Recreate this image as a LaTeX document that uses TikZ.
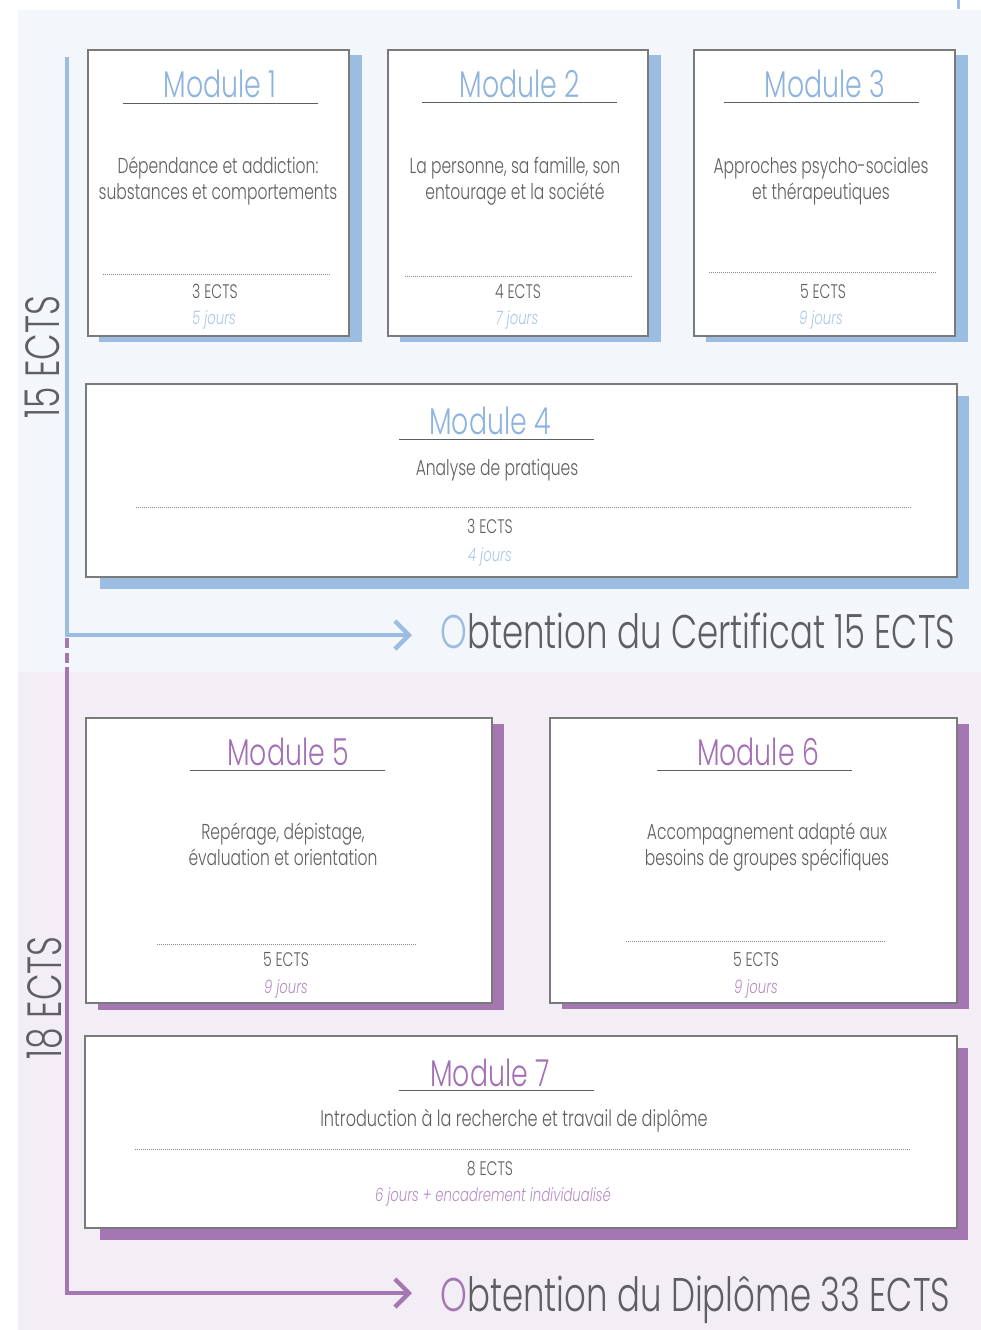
\documentclass[tikz,border=0pt]{standalone}
\usepackage{fontspec}
\IfFontExistsTF{Poppins Light}
  {\setmainfont{Poppins Light}[FakeStretch = 0.72]}
  {\setmainfont{Poppins}[FakeStretch = 0.72]}
\usetikzlibrary{arrows.meta}

\definecolor{bluebg}{HTML}{F3F6FB}
\definecolor{lilabg}{HTML}{F3EEF5}
\definecolor{blueline}{HTML}{9BBDE2}
\definecolor{lilaline}{HTML}{A477B2}
\definecolor{bluetitle}{HTML}{8DB3DF}
\definecolor{lilatitle}{HTML}{A370B5}
\definecolor{bluedays}{HTML}{A9C8EA}
\definecolor{liladays}{HTML}{B58DC6}
\definecolor{textgray}{HTML}{5F5F63}
\definecolor{framegray}{HTML}{7A7A7A}
\definecolor{dotgray}{HTML}{8A8A8A}

\begin{document}
\begin{tikzpicture}[x = 0.5pt, y = -0.5pt,
  modbox/.style = {draw = framegray, fill = white, line width = 0.6pt, inner sep = 0pt},
  title/.style = {anchor = base, inner sep = 0pt, font = \fontsize{18.6}{20}\selectfont},
  desc/.style = {anchor = base, inner sep = 0pt, align = center, text = textgray, font = \fontsize{10.8}{13}\selectfont},
  ects/.style = {anchor = base, inner sep = 0pt, text = textgray, font = \fontsize{9.8}{11}\selectfont},
  days/.style = {anchor = base, inner sep = 0pt, font = \fontsize{9.2}{11}\selectfont\itshape},
  rule/.style = {draw = textgray, line width = 0.6pt},
  dots/.style = {draw = dotgray, line width = 0.5pt, dash pattern = on 0.5pt off 0.5pt},
  bigtext/.style = {anchor = base west, inner sep = 0pt, text = textgray, font = \fontsize{23.6}{26}\selectfont},
  side/.style = {rotate = 90, inner sep = 0pt, text = textgray, font = \fontsize{24}{26}\selectfont},
  bluearrow/.style = {draw = blueline, line width = 2.2pt, -{Straight Barb[length = 7pt, width = 14pt]}, shorten > = 14pt},
  lilaarrow/.style = {draw = lilaline, line width = 2.2pt, -{Straight Barb[length = 7pt, width = 14pt]}, shorten > = 14pt}]

\useasboundingbox (0,0) rectangle (981,1330);
\fill[bluebg] (18,10) rectangle (981,672);
\fill[lilabg] (18,672) rectangle (981,1330);
\draw[blueline, line width = 1.5pt] (958,0) -- (958,9);

\fill[blueline] (99,55) rectangle (362,342);
\node[modbox, minimum width = 130.5pt, minimum height = 143pt] (m1) at (218.5,193) {};
\node[title, text = bluetitle] (t1) at (220,97) {Module 1};
\draw[rule] (123,103.5) -- (318,103.5);
\node[desc] (d1) at (218,199) {Dépendance et addiction:\\substances et comportements};
\draw[dots] (103,274) -- (331,274);
\node[ects] (e1) at (215,298) {3 ECTS};
\node[days, text = bluedays] (j1) at (214,324) {5 jours};

\fill[blueline] (400,55) rectangle (661,342);
\node[modbox, minimum width = 130pt, minimum height = 143pt] (m2) at (518,193) {};
\node[title, text = bluetitle] (t2) at (520,97) {Module 2};
\draw[rule] (422,102.5) -- (617,102.5);
\node[desc] (d2) at (515,199) {La personne, sa famille, son\\entourage et la société};
\draw[dots] (405,276) -- (632,276);
\node[ects] (e2) at (518,298) {4 ECTS};
\node[days, text = bluedays] (j2) at (517,324) {7 jours};

\fill[blueline] (706,55) rectangle (968,342);
\node[modbox, minimum width = 130.5pt, minimum height = 143pt] (m3) at (824.5,193) {};
\node[title, text = bluetitle] (t3) at (825,97) {Module 3};
\draw[rule] (724,102.5) -- (919,102.5);
\node[desc] (d3) at (821,199) {Approches psycho-sociales\\et thérapeutiques};
\draw[dots] (709,272) -- (937,272);
\node[ects] (e3) at (823,298) {5 ECTS};
\node[days, text = bluedays] (j3) at (821,324) {9 jours};

\fill[blueline] (100,396) rectangle (969,589);
\node[modbox, minimum width = 435.5pt, minimum height = 96.5pt] (m4) at (521.5,480.5) {};
\node[title, text = bluetitle] (t4) at (490,434) {Module 4};
\draw[rule] (399,439.5) -- (594,439.5);
\node[desc] (d4) at (497,475) {Analyse de pratiques};
\draw[dots] (136,507) -- (911,507);
\node[ects] (e4) at (490,533) {3 ECTS};
\node[days, text = bluedays] (j4) at (490,561) {4 jours};

\node[bigtext] (ob1) at (440,648) {{\color{blueline}O}btention du Certificat 15 ECTS};
\node[side] (s1) at (42,357) {15 ECTS};
\coordinate (b0) at (67,57);
\draw[bluearrow] (b0) |- ([yshift = 6.5pt]ob1.base west);

\fill[lilaline] (98,724) rectangle (504,1010);
\node[modbox, minimum width = 203pt, minimum height = 142.5pt] (m5) at (289,860.5) {};
\node[title, text = lilatitle] (t5) at (288,765) {Module 5};
\draw[rule] (190,770.5) -- (385,770.5);
\node[desc] (d5) at (283,865) {Repérage, dépistage,\\évaluation et orientation};
\draw[dots] (157,944) -- (416,944);
\node[ects] (e5) at (286,966) {5 ECTS};
\node[days, text = liladays] (j5) at (286,993) {9 jours};

\fill[lilaline] (562,724) rectangle (969,1009);
\node[modbox, minimum width = 203.5pt, minimum height = 142.5pt] (m6) at (753.5,860.5) {};
\node[title, text = lilatitle] (t6) at (758,765) {Module 6};
\draw[rule] (657,770.5) -- (852,770.5);
\node[desc] (d6) at (767,865) {Accompagnement adapté aux\\besoins de groupes spécifiques};
\draw[dots] (626,941) -- (886,941);
\node[ects] (e6) at (756,966) {5 ECTS};
\node[days, text = liladays] (j6) at (756,993) {9 jours};

\fill[lilaline] (100,1048) rectangle (968,1240);
\node[modbox, minimum width = 436pt, minimum height = 96pt] (m7) at (521,1132) {};
\node[title, text = lilatitle] (t7) at (490,1086) {Module 7};
\draw[rule] (399,1090.5) -- (594,1090.5);
\node[desc, font = \fontsize{11.2}{13}\selectfont] (d7) at (514,1126) {Introduction à la recherche et travail de diplôme};
\draw[dots] (135,1149) -- (910,1149);
\node[ects] (e7) at (490,1175) {8 ECTS};
\node[days, text = liladays] (j7) at (493,1201) {6 jours + encadrement individualisé};

\node[bigtext] (ob2) at (440,1311) {{\color{lilaline}O}btention du Diplôme 33 ECTS};
\node[side] (s2) at (45,998) {18 ECTS};
\coordinate (p0) at (67,638);
\coordinate (p1) at (67,667);
\draw[lilaline, line width = 2.2pt, dash pattern = on 5pt off 2.25pt] (p0) -- (p1);
\draw[lilaarrow] (p1) |- ([yshift = 9pt]ob2.base west);
\end{tikzpicture}
\end{document}
